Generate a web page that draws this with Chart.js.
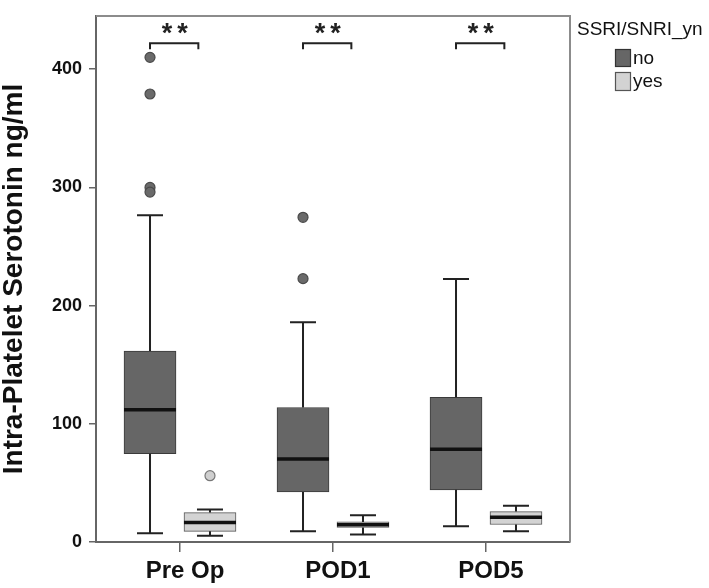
<!DOCTYPE html>
<html><head><meta charset="utf-8">
<script src="https://cdn.jsdelivr.net/npm/chart.js@4/dist/chart.umd.min.js"></script>
<style>html,body{margin:0;padding:0;background:#fff;} #wrap{width:709px;height:588px;position:relative;}</style>
</head><body><div id="wrap"><canvas id="c" width="709" height="588"></canvas></div>
<script>
// ---- data ----
const categories = ['Pre Op', 'POD1', 'POD5'];
const groupNames = ['no', 'yes'];
const legendTitle = 'SSRI/SNRI_yn';
const yTicks = [0, 100, 200, 300, 400];
const yTitle = 'Intra-Platelet Serotonin ng/ml';

const noMin    = [7.3, 9.0, 13.4];
const noQ1     = [74.7, 42.4, 44.1];
const noMedian = [111.9, 70.3, 78.4];
const noQ3     = [161.5, 113.8, 122.4];
const noMax    = [276.4, 186.0, 222.6];
const noOutliers = [[410, 379, 300, 296], [274.7, 222.8], []];

const yesMin    = [5.3, 6.4, 9.0];
const yesQ1     = [9.0, 12.3, 14.8];
const yesMedian = [16.5, 14.5, 20.9];
const yesQ3     = [24.9, 17.0, 25.7];
const yesMax    = [27.4, 22.6, 30.7];
const yesOutliers = [[56.1], [], []];

const significance = ['**', '**', '**'];
const sigLevel = 422;

// ---- styling / layout ----
const FONT = "'Liberation Sans', Arial, Helvetica, sans-serif";
const groupOffset = [-0.196, 0.196];
const boxHalf = 0.17;
const colors = {
  noFill: '#666666', noBorder: '#3a3a3a',
  yesFill: '#d3d3d3', yesBorder: '#555555'
};

const stats = [
  {min: noMin, q1: noQ1, med: noMedian, q3: noQ3, max: noMax, out: noOutliers},
  {min: yesMin, q1: yesQ1, med: yesMedian, q3: yesQ3, max: yesMax, out: yesOutliers}
];

const datasets = [];
stats.forEach((s, g) => {
  datasets.push({
    type: 'bar',
    label: groupNames[g],
    data: categories.map((c, i) => ({x: i + 1 + groupOffset[g], y: [s.q1[i], s.q3[i]]})),
    backgroundColor: g === 0 ? colors.noFill : colors.yesFill,
    borderColor: g === 0 ? colors.noBorder : colors.yesBorder,
    borderWidth: 1,
    borderSkipped: false,
    barThickness: 52,
    grouped: false,
    order: 2
  });
});
stats.forEach((s, g) => {
  const pts = [];
  s.out.forEach((arr, i) => arr.forEach(v => pts.push({x: i + 1 + groupOffset[g], y: v})));
  datasets.push({
    type: 'scatter',
    label: groupNames[g] + ' outliers',
    data: pts,
    pointRadius: 5,
    pointBackgroundColor: g === 0 ? '#6a6a6a' : '#cfcfcf',
    pointBorderColor: g === 0 ? '#4a4a4a' : '#777777',
    pointBorderWidth: 1.2,
    order: 1
  });
});

const boxParts = {
  id: 'boxParts',
  afterDatasetsDraw(chart) {
    const {ctx, scales: {x, y}} = chart;
    ctx.save();
    stats.forEach((s, g) => {
      categories.forEach((c, i) => {
        const cx = x.getPixelForValue(i + 1 + groupOffset[g]);
        const half = x.getPixelForValue(i + 1 + groupOffset[g] + boxHalf) - cx;
        const capHalf = half / 2;
        const pMin = y.getPixelForValue(s.min[i]);
        const pQ1 = y.getPixelForValue(s.q1[i]);
        const pQ3 = y.getPixelForValue(s.q3[i]);
        const pMax = y.getPixelForValue(s.max[i]);
        const pMed = y.getPixelForValue(s.med[i]);
        ctx.strokeStyle = '#222';
        ctx.lineWidth = 2;
        ctx.beginPath();
        ctx.moveTo(cx, pQ3); ctx.lineTo(cx, pMax);
        ctx.moveTo(cx - capHalf, pMax); ctx.lineTo(cx + capHalf, pMax);
        ctx.moveTo(cx, pQ1); ctx.lineTo(cx, pMin);
        ctx.moveTo(cx - capHalf, pMin); ctx.lineTo(cx + capHalf, pMin);
        ctx.stroke();
        ctx.strokeStyle = '#111';
        ctx.lineWidth = 3.5;
        ctx.beginPath();
        ctx.moveTo(cx - half, pMed); ctx.lineTo(cx + half, pMed);
        ctx.stroke();
      });
    });
    // significance brackets
    categories.forEach((c, i) => {
      const x1 = x.getPixelForValue(i + 1 - 0.196);
      const x2 = x.getPixelForValue(i + 1 + 0.12);
      const yb = y.getPixelForValue(sigLevel);
      ctx.strokeStyle = '#222';
      ctx.lineWidth = 2;
      ctx.beginPath();
      ctx.moveTo(x1, yb + 6); ctx.lineTo(x1, yb); ctx.lineTo(x2, yb); ctx.lineTo(x2, yb + 6);
      ctx.stroke();
      ctx.fillStyle = '#222';
      ctx.font = 'bold 27px ' + FONT;
      ctx.textAlign = 'center';
      ctx.textBaseline = 'alphabetic';
      try { ctx.letterSpacing = '5px'; } catch (e) {}
      ctx.fillText(significance[i], (x1 + x2) / 2 + 3, yb - 1);
      try { ctx.letterSpacing = '0px'; } catch (e) {}
    });
    ctx.restore();
  },
  afterDraw(chart) {
    const {ctx, chartArea: a} = chart;
    ctx.save();
    // top and right frame
    ctx.strokeStyle = '#8c8c8c';
    ctx.lineWidth = 2;
    ctx.beginPath();
    ctx.moveTo(a.left, a.top); ctx.lineTo(a.right, a.top); ctx.lineTo(a.right, a.bottom);
    ctx.stroke();
    // legend
    ctx.fillStyle = '#111';
    ctx.font = '19px ' + FONT;
    ctx.textAlign = 'left';
    ctx.textBaseline = 'middle';
    ctx.fillText(legendTitle, 577, 30);
    const rows = [[49, 17], [72, 18]];
    groupNames.forEach((n, g) => {
      ctx.fillStyle = g === 0 ? colors.noFill : colors.yesFill;
      ctx.strokeStyle = g === 0 ? '#333' : '#555';
      ctx.lineWidth = 1.2;
      ctx.fillRect(615.5, rows[g][0] + 0.5, 15, rows[g][1]);
      ctx.strokeRect(615.5, rows[g][0] + 0.5, 15, rows[g][1]);
      ctx.fillStyle = '#111';
      ctx.fillText(n, 633, rows[g][0] + rows[g][1] / 2 + 1);
    });
    ctx.restore();
  }
};

new Chart(document.getElementById('c'), {
  data: {datasets},
  options: {
    responsive: false,
    animation: false,
    layout: {padding: {top: 10, right: 139, left: 0, bottom: 0}},
    plugins: {legend: {display: false}, tooltip: {enabled: false}},
    scales: {
      x: {
        type: 'linear',
        offset: false,
        min: 0.451, max: 3.549,
        afterBuildTicks: s => { s.ticks = categories.map((c, i) => ({value: i + 1})); },
        afterFit: s => { s.height = 46; },
        ticks: {
          callback: v => categories[Math.round(v) - 1] || '',
          font: {family: FONT, size: 24, weight: 'bold'},
          color: '#111',
          padding: 5,
          labelOffset: 5,
          maxRotation: 0, autoSkip: false
        },
        grid: {offset: false, drawOnChartArea: false, drawTicks: true, tickLength: 10, color: '#666', lineWidth: 1.5},
        border: {display: true, color: '#666', width: 2}
      },
      y: {
        type: 'linear',
        min: 0, max: 445,
        afterBuildTicks: s => { s.ticks = yTicks.map(v => ({value: v})); },
        afterFit: s => { s.width = 96; },
        ticks: {
          font: {family: FONT, size: 18, weight: 'bold', lineHeight: 1},
          color: '#111',
          padding: 7
        },
        grid: {drawOnChartArea: false, drawTicks: true, tickLength: 7, color: '#666', lineWidth: 1.5},
        border: {display: true, color: '#666', width: 2},
        title: {
          display: true, text: yTitle,
          font: {family: FONT, size: 28, weight: 'bold', lineHeight: 1},
          color: '#111',
          padding: {top: 0, bottom: 0}
        }
      }
    }
  },
  plugins: [boxParts]
});
</script>
</body></html>
